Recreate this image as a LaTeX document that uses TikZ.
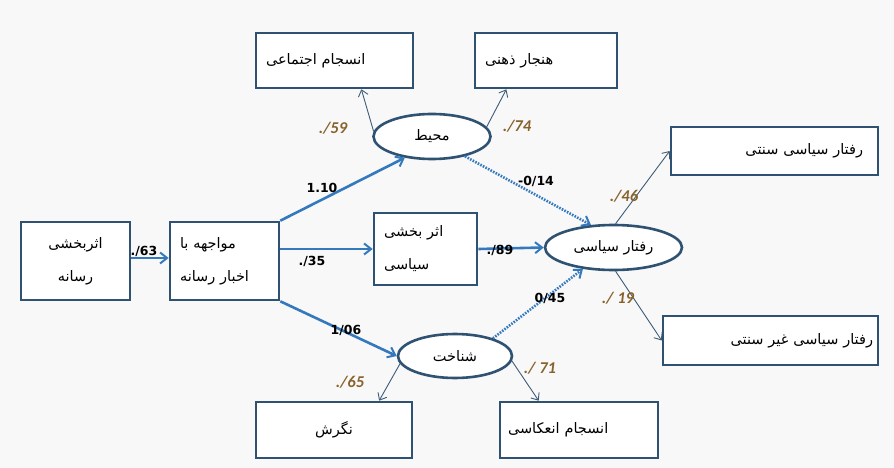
\documentclass[tikz,border=0pt]{standalone}
\usepackage{fontspec}
\usetikzlibrary{shapes.geometric,arrows.meta}
\TeXXeTstate=1
\newfontfamily\farsi[Script=Arabic]{DejaVu Sans}
\newfontfamily\pathfont{DejaVu Sans}
\newfontfamily\loadfont{Carlito}
\definecolor{edge}{HTML}{2F5272}
\definecolor{path}{HTML}{3479BE}
\definecolor{thin}{HTML}{3E5C78}
\definecolor{loadcol}{HTML}{87622C}
\definecolor{paper}{HTML}{F8F8F8}
\newcommand{\fatext}[1]{\leavevmode{\farsi\beginR #1\endR}}

\begin{document}
\begin{tikzpicture}[x=1pt,y=-1pt,
    box/.style={draw=edge,line width=2.6pt,fill=white,rectangle,
      inner xsep=10pt,inner ysep=2pt,font=\fontsize{14.5}{33}\selectfont},
    latent/.style={draw=edge,line width=2.6pt,fill=white,ellipse,
      inner sep=0pt,font=\fontsize{14.5}{17}\selectfont},
    strong/.style={draw=path,line width=2.6pt,-{Straight Barb[length=7pt,width=11pt,line width=2pt]}},
    weak/.style={strong,dash pattern=on 1.6pt off 1.3pt},
    measure/.style={draw=thin,line width=0.9pt,-{Straight Barb[length=6pt,width=10pt]}},
    coef/.style={font=\pathfont\bfseries\fontsize{12.5}{14}\selectfont,text=black,inner sep=0pt},
    loading/.style={font=\loadfont\bfseries\itshape\fontsize{16.5}{18}\selectfont,text=loadcol,inner sep=0pt}]
  \fill[paper] (0,0) rectangle (894,468);

  % observed boxes
  \node[box,minimum width=109pt,minimum height=78pt,text width=89pt,align=center]
    (asarresane) at (75.5,261) {\fatext{اثربخشی}\\\fatext{رسانه}};
  \node[box,minimum width=109pt,minimum height=78pt,text width=89pt,align=left]
    (mavajehe) at (224.5,261) {\fatext{مواجهه با}\\\fatext{اخبار رسانه}};
  \node[box,minimum width=103pt,minimum height=72pt,text width=83pt,align=left]
    (asarsiasi) at (425.5,249) {\fatext{اثر بخشی}\\\fatext{سیاسی}};
  \node[box,minimum width=157pt,minimum height=55pt,text width=137pt,align=left]
    (ensjam) at (334.5,60.5) {\fatext{انسجام اجتماعی}};
  \node[box,minimum width=142pt,minimum height=55pt,text width=122pt,align=left]
    (hanjar) at (546,60.5) {\fatext{هنجار ذهنی}};
  \node[box,minimum width=207pt,minimum height=48pt,text width=177pt,align=right]
    (sonnati) at (774.5,151) {\fatext{رفتار سیاسی سنتی}};
  \node[box,minimum width=215pt,minimum height=49pt,text width=205pt,align=right,inner xsep=5pt]
    (gheir) at (770.5,340.5) {\fatext{رفتار سیاسی غیر سنتی}};
  \node[box,minimum width=156pt,minimum height=56pt,text width=136pt,align=center]
    (negaresh) at (334,430) {\fatext{نگرش}};
  \node[box,minimum width=158pt,minimum height=56pt,text width=142pt,align=left,inner xsep=8pt]
    (enekasi) at (579,430) {\fatext{انسجام انعکاسی}};

  % latent ellipses
  \node[latent,minimum width=117pt,minimum height=45pt] (mohit) at (432,136.5) {\fatext{محیط}};
  \node[latent,minimum width=137pt,minimum height=45pt] (raftar) at (613.5,247.5) {\fatext{رفتار سیاسی}};
  \node[latent,minimum width=114pt,minimum height=44pt] (shenakht) at (455,356) {\fatext{شناخت}};

  % structural paths
  \draw[strong] (asarresane.east |- 0,258) -- (mavajehe.west |- 0,258);
  \draw[strong] (mavajehe.north east) -- (mohit.218);
  \draw[strong] (mavajehe.east |- asarsiasi.west) -- (asarsiasi.west);
  \draw[strong] (mavajehe.south east) -- (shenakht.west);
  \draw[strong] (asarsiasi.east) -- (raftar.west);
  \draw[weak] (mohit.-31) -- (raftar.135);
  \draw[weak] (shenakht.25) -- (raftar.215);

  % measurement arrows
  \draw[measure] (mohit.175) -- (ensjam.-47);
  \draw[measure] (mohit.10) -- (hanjar.216);
  \draw[measure] (raftar.85) -- (sonnati.west);
  \draw[measure] (raftar.-85) -- (gheir.west);
  \draw[measure] (shenakht.188) -- (negaresh.33);
  \draw[measure] (shenakht.-5) -- (enekasi.144);

  % coefficients
  \node[coef] (c63) at (144,251) {./63};
  \node[coef] (c110) at (322,188) {1.10};
  \node[coef] (c35) at (312,261) {./35};
  \node[coef] (c89) at (500,250) {./89};
  \node[coef] (c14) at (536,181) {-0/14};
  \node[coef] (c106) at (346,330) {1/06};
  \node[coef] (c45) at (550,298) {0/45};
  \node[loading] (l59) at (333,128) {./59};
  \node[loading] (l74) at (517,126) {./74};
  \node[loading] (l46) at (624,196) {./46};
  \node[loading] (l19) at (618,298) {./ 19};
  \node[loading] (l65) at (350,382) {./65};
  \node[loading] (l71) at (540,368) {./ 71};
\end{tikzpicture}
\end{document}
